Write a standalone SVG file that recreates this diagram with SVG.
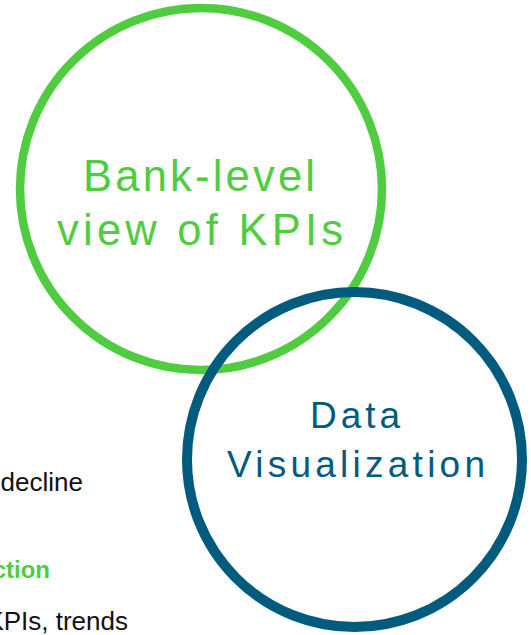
<svg xmlns="http://www.w3.org/2000/svg" width="531" height="635" viewBox="0 0 531 635">
<style>
.ring{fill:none}
.g{stroke:#4FCC3F;stroke-width:8.5}
.b{stroke:#015B7F;stroke-width:10}
.lbl{font-family:"Liberation Sans",Arial,sans-serif;text-anchor:middle}
.gt{fill:#4FCC3F;font-size:43.5px}
.bt{fill:#015B7F;font-size:37px}
.side{font-family:"Liberation Sans",Arial,sans-serif;font-size:26px;fill:#111;text-anchor:end}
</style>
<rect width="531" height="635" fill="#fff"/>
<g id="side-text">
<text class="side" x="83" y="491">decline</text>
<text class="side" x="50" y="578" style="font-weight:bold;fill:#4FCC3F;font-size:24px">ction</text>
<text class="side" x="128" y="630">KPIs, trends</text>
</g>
<g id="bank-level">
<circle class="ring g" cx="201" cy="189" r="181"/>
<text class="lbl gt" x="199" y="191" textLength="232" lengthAdjust="spacing">Bank-level</text>
<text class="lbl gt" x="200" y="245" textLength="286" lengthAdjust="spacing">view of KPIs</text>
</g>
<g id="data-visualization">
<circle class="ring b" cx="354.5" cy="459.5" r="167.5"/>
<text class="lbl bt" x="355" y="428" textLength="90" lengthAdjust="spacing">Data</text>
<text class="lbl bt" x="356" y="477" textLength="258" lengthAdjust="spacing">Visualization</text>
</g>
</svg>
